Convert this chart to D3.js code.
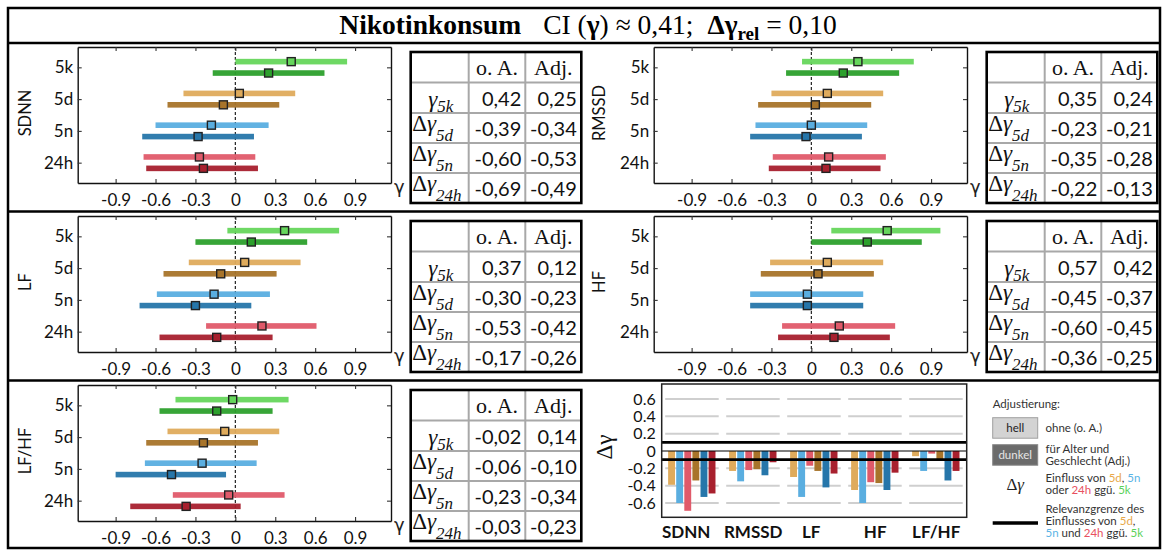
<!DOCTYPE html>
<meta charset="utf-8">
<style>
body { margin: 0; background: #fff; }
svg { font-family: Lato, "Open Sans", sans-serif; }
</style>
<body>
<script src="https://d3js.org/d3.v7.min.js"></script>
<script>

var width = 1162, height = 551;

var panels = ["SDNN", "RMSSD", "LF", "HF", "LF/HF"];
var cats = ["5k", "5d", "5n", "24h"];
var xTicks = [-0.9, -0.6, -0.3, 0, 0.3, 0.6, 0.9];
var barTicks = [0.6, 0.4, 0.2, 0, -0.2, -0.4, -0.6];
var gridVals = [0.6, 0.4, 0.2, -0.2, -0.4, -0.6];

// gamma estimates and confidence limits, one row per panel, columns = cats
// light = ohne Adjustierung (o. A.), dark = adjustiert (Adj.)
var lightEst = [[0.42, 0.03, -0.18, -0.27], [0.35, 0.12, 0.00, 0.13], [0.37, 0.07, -0.16, 0.20], [0.57, 0.12, -0.03, 0.21], [-0.02, -0.08, -0.25, -0.05]];
var lightLo  = [[0.00, -0.39, -0.60, -0.69], [-0.07, -0.30, -0.42, -0.29], [-0.06, -0.35, -0.59, -0.22], [0.15, -0.31, -0.46, -0.22], [-0.45, -0.51, -0.68, -0.47]];
var lightHi  = [[0.84, 0.45, 0.25, 0.15], [0.77, 0.54, 0.42, 0.56], [0.78, 0.49, 0.26, 0.61], [0.97, 0.54, 0.39, 0.63], [0.40, 0.33, 0.16, 0.37]];
var darkEst  = [[0.25, -0.09, -0.28, -0.24], [0.24, 0.03, -0.04, 0.11], [0.12, -0.11, -0.30, -0.14], [0.42, 0.05, -0.03, 0.17], [-0.14, -0.24, -0.48, -0.37]];
var darkLo   = [[-0.17, -0.51, -0.70, -0.67], [-0.19, -0.40, -0.46, -0.32], [-0.30, -0.54, -0.72, -0.57], [0.00, -0.38, -0.46, -0.25], [-0.57, -0.67, -0.90, -0.79]];
var darkHi   = [[0.67, 0.33, 0.14, 0.17], [0.66, 0.45, 0.38, 0.52], [0.54, 0.31, 0.12, 0.28], [0.83, 0.47, 0.39, 0.59], [0.28, 0.17, -0.07, 0.04]];

// table values: gamma_5k, delta 5d, delta 5n, delta 24h
var tabOA  = [[0.42, -0.39, -0.60, -0.69], [0.35, -0.23, -0.35, -0.22], [0.37, -0.30, -0.53, -0.17], [0.57, -0.45, -0.60, -0.36], [-0.02, -0.06, -0.23, -0.03]];
var tabAdj = [[0.25, -0.34, -0.53, -0.49], [0.24, -0.21, -0.28, -0.13], [0.12, -0.23, -0.42, -0.26], [0.42, -0.37, -0.45, -0.25], [0.14, -0.10, -0.34, -0.23]];
var rowSubs = ["5k", "5d", "5n", "24h"];

var lightColors = ["#66d65c", "#dfab5c", "#5aaee0", "#e05a6a"];
var darkColors  = ["#2ca02c", "#a8742a", "#2676aa", "#a8202e"];

// panel grid position: [column, row]
var panelPos = [[0, 0], [1, 0], [0, 1], [1, 1], [0, 2]];
var colOff = [0, 576], rowOff = [0, 169, 338];

var deLocale = d3.formatLocale({decimal: ",", thousands: ".", grouping: [3], currency: ["", ""], minus: "-"});
var enLocale = d3.formatLocale({decimal: ".", thousands: ",", grouping: [3], currency: ["", ""], minus: "-"});
var fmtTab = deLocale.format(".2f");
var fmtAx = function (d) { return d === 0 ? "0" : enLocale.format(".1f")(d); };

var svg = d3.select("body").append("svg")
    .attr("width", width)
    .attr("height", height);

svg.append("rect").attr("width", width).attr("height", height).attr("fill", "#fff");

// frame and cell dividers
svg.append("rect").attr("x", 8).attr("y", 8).attr("width", 1152).attr("height", 540)
    .attr("fill", "none").attr("stroke", "#000").attr("stroke-width", 2.5);
[43, 211.5, 380.5].forEach(function (yy) {
  svg.append("line").attr("x1", 8).attr("x2", 1160).attr("y1", yy).attr("y2", yy)
      .attr("stroke", "#000").attr("stroke-width", 2.5);
});

// title
var title = svg.append("text")
    .attr("x", 588).attr("y", 34)
    .attr("text-anchor", "middle")
    .style("font-family", "'Liberation Serif', serif")
    .style("font-size", "27.5px");
title.append("tspan").attr("font-weight", "bold").text("Nikotinkonsum");
title.append("tspan").attr("dx", 22).text("CI (");
title.append("tspan").attr("font-weight", "bold").text("γ");
title.append("tspan").text(") ≈ 0,41;");
title.append("tspan").attr("dx", 14).attr("font-weight", "bold").text("Δγ");
title.append("tspan").attr("font-weight", "bold").attr("font-size", "19px").attr("dy", 6).text("rel");
title.append("tspan").attr("dy", -6).text(" = 0,10");

// forest plots
panels.forEach(function (name, pi) {
  var ox = colOff[panelPos[pi][0]], oy = rowOff[panelPos[pi][1]];
  var left = 77.7 + ox, right = 391 + ox, top = 47 + oy, bottom = 183 + oy;
  var x = d3.scaleLinear().domain([-1.185, 1.17]).range([left, right]);
  var y = d3.scalePoint().domain(cats).range([top, bottom]).padding(0.64);

  var g = svg.append("g");

  g.append("line").attr("x1", x(0)).attr("x2", x(0)).attr("y1", top).attr("y2", bottom)
      .attr("stroke", "#222").attr("stroke-width", 1.2).attr("stroke-dasharray", "3,2");

  function styleAxis(a) {
    a.selectAll("path").attr("stroke", "#111").attr("stroke-width", 1.4);
    a.selectAll("line").attr("stroke", "#333").attr("stroke-width", 1.1);
    a.selectAll("text").attr("fill", "#111").style("font-family", "Lato, sans-serif");
  }

  var ab = g.append("g").attr("transform", "translate(0," + bottom + ")")
      .call(d3.axisBottom(x).tickValues(xTicks).tickFormat(fmtAx).tickSizeInner(-4).tickSizeOuter(0).tickPadding(11));
  styleAxis(ab);
  ab.selectAll("text").style("font-size", "17px");
  var at = g.append("g").attr("transform", "translate(0," + top + ")")
      .call(d3.axisTop(x).tickValues(xTicks).tickFormat("").tickSizeInner(-4).tickSizeOuter(0));
  styleAxis(at);
  var al = g.append("g").attr("transform", "translate(" + left + ",0)")
      .call(d3.axisLeft(y).tickSizeInner(-4).tickSizeOuter(0).tickPadding(4.5));
  styleAxis(al);
  al.selectAll("text").style("font-size", "17px");
  var ar = g.append("g").attr("transform", "translate(" + right + ",0)")
      .call(d3.axisRight(y).tickFormat("").tickSizeInner(-4).tickSizeOuter(0));
  styleAxis(ar);

  var labX = ox ? 29 + ox : 31;
  g.append("text")
      .attr("transform", "translate(" + labX + "," + ((top + bottom) / 2 - 2) + ") rotate(-90)")
      .attr("text-anchor", "middle")
      .style("font-size", "16.5px").attr("fill", "#111")
      .text(name);

  g.append("text").attr("x", right + 3).attr("y", bottom + 10)
      .style("font-family", "'DejaVu Sans', sans-serif").style("font-size", "18px").attr("fill", "#222")
      .text("γ");

  var series = [
    {est: lightEst[pi], lo: lightLo[pi], hi: lightHi[pi], colors: lightColors, dy: -5.7},
    {est: darkEst[pi], lo: darkLo[pi], hi: darkHi[pi], colors: darkColors, dy: 5.7}
  ];
  series.forEach(function (s) {
    var rows = cats.map(function (c, i) { return {c: c, i: i, est: s.est[i], lo: s.lo[i], hi: s.hi[i]}; });
    g.selectAll(null).data(rows).enter().append("rect")
        .attr("x", function (d) { return x(d.lo); })
        .attr("width", function (d) { return x(d.hi) - x(d.lo); })
        .attr("y", function (d) { return y(d.c) + s.dy - 2.8; })
        .attr("height", 5.6)
        .attr("fill", function (d) { return s.colors[d.i]; })
        .attr("opacity", 0.95);
    g.selectAll(null).data(rows).enter().append("rect")
        .attr("x", function (d) { return x(d.est) - 4; })
        .attr("y", function (d) { return y(d.c) + s.dy - 4; })
        .attr("width", 8).attr("height", 8)
        .attr("fill", function (d) { return s.colors[d.i]; })
        .attr("stroke", "#222").attr("stroke-width", 1.4);
  });

  // table
  var xs = [410.7, 468.7, 525.3, 581.3].map(function (v) { return v + ox; });
  var ys = [52, 82.5, 113, 143, 173, 203].map(function (v) { return v + oy; });
  var t = svg.append("g");
  xs.slice(1, 3).forEach(function (xx) {
    t.append("line").attr("x1", xx).attr("x2", xx).attr("y1", ys[0]).attr("y2", ys[5])
        .attr("stroke", "#a8a8a8").attr("stroke-width", 2);
  });
  ys.slice(1, 5).forEach(function (yy) {
    t.append("line").attr("x1", xs[0]).attr("x2", xs[3]).attr("y1", yy).attr("y2", yy)
        .attr("stroke", "#a8a8a8").attr("stroke-width", 2);
  });
  t.append("rect").attr("x", xs[0]).attr("y", ys[0]).attr("width", xs[3] - xs[0]).attr("height", ys[5] - ys[0])
      .attr("fill", "none").attr("stroke", "#000").attr("stroke-width", 2.6);

  [["o. A.", 1], ["Adj.", 2]].forEach(function (h) {
    t.append("text").attr("x", (xs[h[1]] + xs[h[1] + 1]) / 2).attr("y", ys[0] + 23)
        .attr("text-anchor", "middle")
        .style("font-family", "'Liberation Serif', serif").style("font-size", "22px").attr("fill", "#111")
        .text(h[0]);
  });

  rowSubs.forEach(function (sub, r) {
    var rt = ys[r + 1];
    t.append("text").attr("x", xs[2] - 4).attr("y", rt + 23).attr("text-anchor", "end")
        .style("font-size", "20px").attr("fill", "#111").text(fmtTab(tabOA[pi][r]));
    t.append("text").attr("x", xs[3] - 4.5).attr("y", rt + 23).attr("text-anchor", "end")
        .style("font-size", "20px").attr("fill", "#111").text(fmtTab(tabAdj[pi][r]));

    var lab = t.append("text")
        .style("font-family", "'Liberation Serif', serif").style("font-size", "23px").attr("fill", "#111");
    if (r === 0) {
      lab.attr("x", (xs[0] + xs[1]) / 2 + 1).attr("y", rt + 24.5).attr("text-anchor", "middle");
      lab.append("tspan").attr("font-style", "italic").text("γ");
      lab.append("tspan").attr("font-style", "italic").attr("font-size", "17px").attr("dy", 5).text(sub);
    } else {
      lab.attr("x", xs[0] + 1.5).attr("y", rt + 18);
      lab.append("tspan").text("Δ");
      lab.append("tspan").attr("font-style", "italic").text("γ");
      lab.append("tspan").attr("font-style", "italic").attr("font-size", "17px").attr("dy", 9.5).text(sub);
    }
  });
});

// bar chart of the deltas
var bLeft = 661.7, bRight = 966.7, bTop = 384, bBottom = 517.3;
var by = d3.scaleLinear().domain([-0.765, 0.773]).range([bBottom, bTop]);
var bx = d3.scaleBand().domain(panels).range([bLeft, bRight]);
var inner = d3.scaleBand().domain(d3.range(6)).range([5.2, 55]).padding(0.15);
var barColors = [lightColors[1], lightColors[2], lightColors[3], darkColors[1], darkColors[2], darkColors[3]];

var bg = svg.append("g");
panels.forEach(function (p) {
  gridVals.forEach(function (v) {
    bg.append("line").attr("x1", bx(p) + 3.5).attr("x2", bx(p) + bx.bandwidth() - 4)
        .attr("y1", by(v)).attr("y2", by(v))
        .attr("stroke", "#cfcfcf").attr("stroke-width", 2);
  });
});

var barData = [];
panels.forEach(function (p, pi) {
  for (var k = 0; k < 3; k++) barData.push({p: p, k: k, v: tabOA[pi][k + 1]});
  for (var k = 0; k < 3; k++) barData.push({p: p, k: k + 3, v: tabAdj[pi][k + 1]});
});
bg.selectAll(null).data(barData).enter().append("rect")
    .attr("x", function (d) { return bx(d.p) + inner(d.k); })
    .attr("width", inner.bandwidth())
    .attr("y", function (d) { return by(Math.max(0, d.v)); })
    .attr("height", function (d) { return Math.abs(by(d.v) - by(0)); })
    .attr("fill", function (d) { return barColors[d.k]; });

[0.1, -0.1].forEach(function (v) {
  bg.append("line").attr("x1", bLeft).attr("x2", bRight).attr("y1", by(v)).attr("y2", by(v))
      .attr("stroke", "#000").attr("stroke-width", 2.6);
});
bg.append("line").attr("x1", bLeft).attr("x2", bRight).attr("y1", by(0)).attr("y2", by(0))
    .attr("stroke", "#000").attr("stroke-width", 1.2);

bg.append("rect").attr("x", bLeft).attr("y", bTop).attr("width", bRight - bLeft).attr("height", bBottom - bTop)
    .attr("fill", "none").attr("stroke", "#222").attr("stroke-width", 1.5);

var bya = bg.append("g").attr("transform", "translate(" + bLeft + ",0)")
    .call(d3.axisLeft(by).tickValues(barTicks).tickFormat(fmtAx).tickSize(0).tickPadding(6));
bya.select("path").remove();
bya.selectAll("text").style("font-size", "16px").style("font-family", "Lato, sans-serif").attr("fill", "#111");

var bxa = bg.append("g").attr("transform", "translate(0," + bBottom + ")")
    .call(d3.axisBottom(bx).tickSize(0).tickPadding(9));
bxa.select("path").remove();
bxa.selectAll("text").style("font-size", "17px").style("font-family", "Lato, sans-serif")
    .attr("font-weight", "bold").attr("fill", "#111")
    .attr("dx", function (d) { return d === "SDNN" ? -6 : (d === "LF" ? -3 : 0); });

bg.append("text")
    .attr("transform", "translate(612,447) rotate(-90)")
    .attr("text-anchor", "middle")
    .style("font-family", "'Liberation Serif', serif").style("font-size", "23px").attr("fill", "#111")
    .text("Δγ");

// legend
var lg = svg.append("g").style("font-size", "11.5px").attr("fill", "#333");
lg.append("text").attr("x", 992.7).attr("y", 408).text("Adjustierung:");
lg.append("rect").attr("x", 992.7).attr("y", 417.7).attr("width", 45).attr("height", 20.5)
    .attr("fill", "#d3d3d3").attr("stroke", "#a0a0a0").attr("stroke-width", 1);
lg.append("text").attr("x", 1015.2).attr("y", 432).attr("text-anchor", "middle").attr("fill", "#222").text("hell");
lg.append("text").attr("x", 1045.5).attr("y", 432).text("ohne (o. A.)");
lg.append("rect").attr("x", 992.7).attr("y", 444.7).attr("width", 45).attr("height", 20.5)
    .attr("fill", "#6b6b6b").attr("stroke", "#888").attr("stroke-width", 1);
lg.append("text").attr("x", 1015.2).attr("y", 459).attr("text-anchor", "middle").attr("fill", "#e6e6e6").text("dunkel");
lg.append("text").attr("x", 1045.5).attr("y", 453).text("für Alter und");
lg.append("text").attr("x", 1045.5).attr("y", 465).text("Geschlecht (Adj.)");
lg.append("text").attr("x", 1015.2).attr("y", 490).attr("text-anchor", "middle")
    .style("font-family", "'Liberation Serif', serif").style("font-size", "17px").attr("fill", "#222")
    .html("Δ<tspan font-style='italic'>γ</tspan>");

var catColorsLegend = {"5d": "#e8a84a", "5n": "#5ab4e6", "24h": "#e85060", "5k": "#5ad25a"};
function legendLine(yy, parts) {
  var tx = lg.append("text").attr("x", 1045.5).attr("y", yy);
  parts.forEach(function (p) {
    tx.append("tspan").attr("fill", catColorsLegend[p] || "#333").text(p);
  });
}
legendLine(482, ["Einfluss von ", "5d", ", ", "5n"]);
legendLine(494, ["oder ", "24h", " ggü. ", "5k"]);
lg.append("line").attr("x1", 992.7).attr("x2", 1038).attr("y1", 523).attr("y2", 523)
    .attr("stroke", "#000").attr("stroke-width", 3.5);
legendLine(513, ["Relevanzgrenze des"]);
legendLine(525, ["Einflusses von ", "5d", ","]);
legendLine(537, ["5n", " und ", "24h", " ggü. ", "5k"]);

</script>
